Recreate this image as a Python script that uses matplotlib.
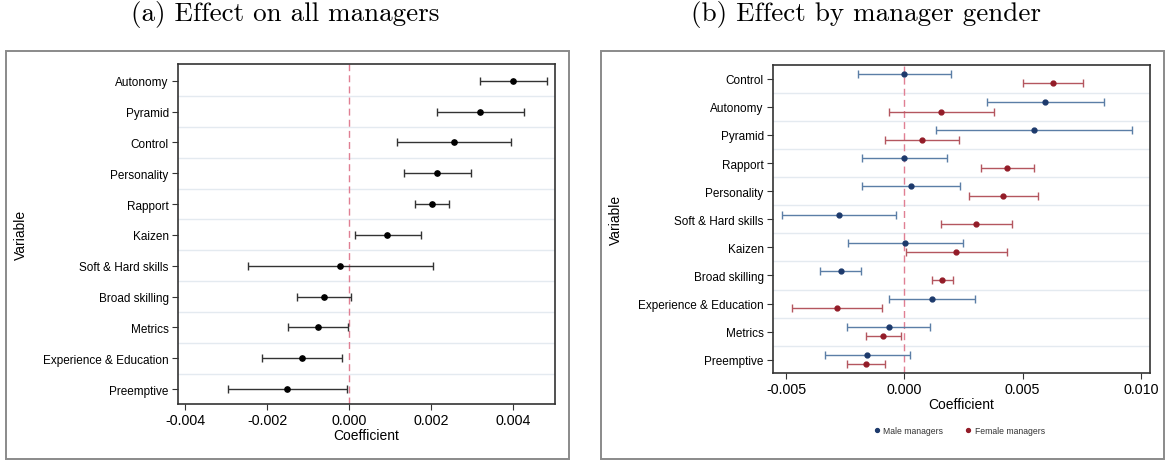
import matplotlib
matplotlib.use("Agg")
import matplotlib.pyplot as plt
from matplotlib.patches import Rectangle
from matplotlib.lines import Line2D

# ── data: panel (a) all managers ──────────────────────────────
all_vars = ["Autonomy", "Pyramid", "Control", "Personality", "Rapport", "Kaizen",
            "Soft & Hard skills", "Broad skilling", "Metrics",
            "Experience & Education", "Preemptive"]
all_coef = [0.00400, 0.00319, 0.00256, 0.00215, 0.00201, 0.00093,
            -0.00022, -0.00061, -0.00077, -0.00115, -0.00151]
all_lo = [0.00319, 0.00213, 0.00116, 0.00133, 0.00160, 0.00013,
          -0.00246, -0.00127, -0.00149, -0.00213, -0.00295]
all_hi = [0.00481, 0.00425, 0.00395, 0.00298, 0.00243, 0.00175,
          0.00204, 0.00005, -0.00004, -0.00017, -0.00006]
a_ticks = [-0.004, -0.002, 0.0, 0.002, 0.004]
a_ticklabels = ["-0.004", "-0.002", "0.000", "0.002", "0.004"]

# ── data: panel (b) by manager gender ─────────────────────────
gender_vars = ["Control", "Autonomy", "Pyramid", "Rapport", "Personality",
               "Soft & Hard skills", "Kaizen", "Broad skilling",
               "Experience & Education", "Metrics", "Preemptive"]
male_coef = [0.00000, 0.00594, 0.00548, -0.00001, 0.00028, -0.00276,
             0.00004, -0.00269, 0.00115, -0.00066, -0.00156]
male_lo = [-0.00197, 0.00348, 0.00132, -0.00180, -0.00179, -0.00518,
           -0.00238, -0.00355, -0.00066, -0.00241, -0.00334]
male_hi = [0.00196, 0.00845, 0.00962, 0.00179, 0.00235, -0.00034,
           0.00248, -0.00185, 0.00297, 0.00110, 0.00023]
female_coef = [0.00627, 0.00155, 0.00075, 0.00435, 0.00418, 0.00304,
               0.00218, 0.00161, -0.00285, -0.00089, -0.00162]
female_lo = [0.00503, -0.00066, -0.00080, 0.00324, 0.00272, 0.00154,
             0.00006, 0.00115, -0.00475, -0.00163, -0.00241]
female_hi = [0.00754, 0.00377, 0.00230, 0.00546, 0.00566, 0.00456,
             0.00434, 0.00206, -0.00096, -0.00013, -0.00082]
b_ticks = [-0.005, 0.0, 0.005, 0.010]
b_ticklabels = ["-0.005", "0.000", "0.005", "0.010"]
series_names = ["Male managers", "Female managers"]

plt.rcParams["font.family"] = ["Liberation Sans", "DejaVu Sans"]

W, H = 1166, 464
fig = plt.figure(figsize=(W / 100, H / 100), dpi=100)
fig.patch.set_facecolor("white")

# outer grey frames around each panel
for x0, x1 in [(6, 569), (601, 1164)]:
    fig.patches.append(Rectangle((x0 / W, 1 - 460 / H), (x1 - x0) / W, (460 - 52) / H,
                                 transform=fig.transFigure, fill=False,
                                 edgecolor="#8a8a8a", linewidth=1.4, zorder=0))

fig.text(285 / W, 1 - 15 / H, "(a) Effect on all managers", family="cmr10",
         fontsize=19.5, ha="center", va="center")
fig.text(866 / W, 1 - 15 / H, "(b) Effect by manager gender", family="cmr10",
         fontsize=19.5, ha="center", va="center")


def style_axes(ax, n, ylim_lo, ylim_hi):
    ax.set_ylim(ylim_lo, ylim_hi)
    ax.set_yticks(range(n))
    ax.set_yticks([i + 0.5 for i in range(n - 1)], minor=True)
    ax.grid(True, which="minor", axis="y", color="#e4eaf0", linewidth=1.0)
    ax.tick_params(axis="y", which="minor", length=0)
    ax.tick_params(axis="y", which="major", length=4, width=0.8, labelsize=8.5, pad=2.5,
                   color="#333333")
    ax.tick_params(axis="x", length=4, width=0.8, labelsize=10.3, pad=2.5, color="#333333")
    for sp in ax.spines.values():
        sp.set_color("#333333")
        sp.set_linewidth(1.2)
    ax.set_axisbelow(True)
    ax.set_xlabel("Coefficient", fontsize=10, labelpad=1)
    ax.set_ylabel("Variable", fontsize=10)
    ax.yaxis.set_label_coords(-0.398, 0.5)


# ── panel (a) ─────────────────────────────────────────────────
ax1 = fig.add_axes([177.7 / W, 1 - 405 / H, 377.3 / W, 340 / H])
ya = list(range(len(all_vars)))
ax1.axvline(0, color="#e07f93", linewidth=1.0, dashes=(5, 3), zorder=1)
ax1.errorbar(all_coef, ya,
             xerr=[[c - l for c, l in zip(all_coef, all_lo)],
                   [h - c for c, h in zip(all_coef, all_hi)]],
             fmt="o", color="black", ecolor="#333333", elinewidth=1.0,
             capsize=2.8, capthick=1.0, markersize=3.8, zorder=3)
ax1.set_xlim(-0.004185, 0.005017)
ax1.set_xticks(a_ticks, a_ticklabels)
ax1.set_yticklabels(all_vars)
style_axes(ax1, len(all_vars), 10.48, -0.54)

# ── panel (b) ─────────────────────────────────────────────────
ax2 = fig.add_axes([772.7 / W, 1 - 374 / H, 377.3 / W, 308 / H])
yb = list(range(len(gender_vars)))
off = 0.167
ax2.axvline(0, color="#e07f93", linewidth=1.0, dashes=(5, 3), zorder=1)
ax2.errorbar(male_coef, [y - off for y in yb],
             xerr=[[c - l for c, l in zip(male_coef, male_lo)],
                   [h - c for c, h in zip(male_coef, male_hi)]],
             fmt="o", color="#1d3a6c", ecolor="#5b7ea6", elinewidth=1.0,
             capsize=2.8, capthick=1.0, markersize=3.5, zorder=3)
ax2.errorbar(female_coef, [y + off for y in yb],
             xerr=[[c - l for c, l in zip(female_coef, female_lo)],
                   [h - c for c, h in zip(female_coef, female_hi)]],
             fmt="o", color="#931c28", ecolor="#b4565f", elinewidth=1.0,
             capsize=2.8, capthick=1.0, markersize=3.5, zorder=3)
ax2.set_xlim(-0.00556, 0.01038)
ax2.set_xticks(b_ticks, b_ticklabels)
ax2.set_yticklabels(gender_vars)
style_axes(ax2, len(gender_vars), 10.47, -0.49)

handles = [Line2D([], [], linestyle="none", marker="o", markersize=2.8, color="#1d3a6c"),
           Line2D([], [], linestyle="none", marker="o", markersize=2.8, color="#931c28")]
fig.legend(handles, series_names, loc="center", bbox_to_anchor=(959 / W, 1 - 432 / H),
           ncol=2, frameon=False, fontsize=6.2, handlelength=0.8, handletextpad=0.35,
           columnspacing=2.5, labelcolor="#333333")

fig.savefig("out.png", dpi=100)
